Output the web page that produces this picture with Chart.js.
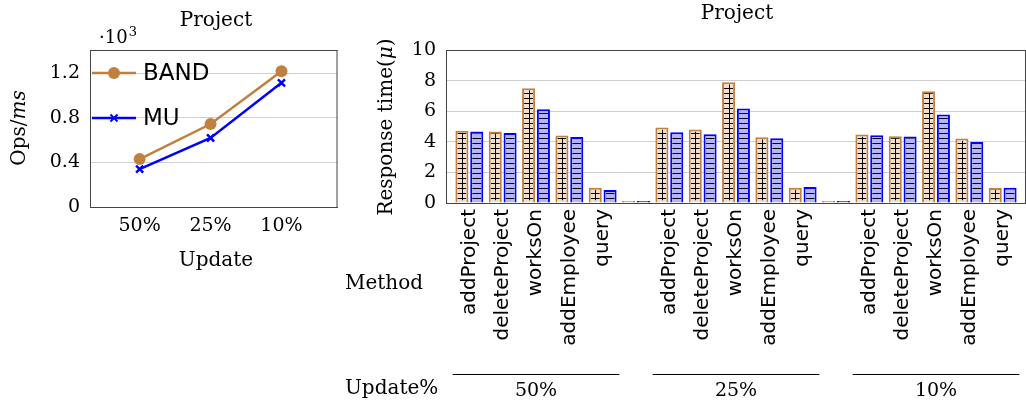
<!DOCTYPE html>
<html>
<head>
<meta charset="utf-8">
<title>Project throughput and response time</title>
<style>
  body { margin: 0; background: #fff; }
  #left { position: absolute; left: 0; top: 0; width: 345px; height: 406px; }
  #right { position: absolute; left: 345px; top: 0; width: 681px; height: 406px; }
</style>
</head>
<body>
<div id="left"><canvas id="opsChart"></canvas></div>
<div id="right"><canvas id="timeChart"></canvas></div>
<script src="https://cdn.jsdelivr.net/npm/chart.js"></script>
<script>
// throughput (x10^3 ops/ms) per update ratio
const updates = ['50%', '25%', '10%'];
const bandOps = [0.43, 0.745, 1.22];
const muOps = [0.34, 0.62, 1.115];
const opsTicks = [0, 0.4, 0.8, 1.2];

// response time per method, one list per update ratio
const methods = ['addProject', 'deleteProject', 'worksOn', 'addEmployee', 'query'];
const groups = ['50%', '25%', '10%'];
const band50 = [4.72, 4.67, 7.5, 4.41, 1.0];
const mu50 = [4.67, 4.57, 6.13, 4.32, 0.85];
const band25 = [4.93, 4.8, 7.89, 4.3, 1.0];
const mu25 = [4.63, 4.5, 6.17, 4.24, 1.05];
const band10 = [4.48, 4.37, 7.3, 4.21, 0.98];
const mu10 = [4.43, 4.35, 5.78, 3.98, 1.0];
const timeTicks = [0, 2, 4, 6, 8, 10];

const BROWN = 'rgb(191,128,64)';
const BROWN_FILL = 'rgb(242,222,203)';
const BLUE = 'rgb(0,0,255)';
const BLUE_FILL = 'rgb(179,179,255)';
const SERIF = 'DejaVu Serif';
const SANS = 'DejaVu Sans';

Chart.defaults.font.family = SERIF;
Chart.defaults.color = '#000';

// slots: 5 methods, gap, 5 methods, gap, 5 methods
const slotLabels = [...methods, '', ...methods, '', ...methods];
const bandTime = [...band50, 0, ...band25, 0, ...band10];
const muTime = [...mu50, 0, ...mu25, 0, ...mu10];

function frame(chart, sides) {
  const { ctx, chartArea: a } = chart;
  ctx.save();
  ctx.strokeStyle = '#444';
  ctx.lineWidth = 1;
  ctx.beginPath();
  if (sides.top) { ctx.moveTo(a.left, a.top + 0.5); ctx.lineTo(a.right, a.top + 0.5); }
  if (sides.right) { ctx.moveTo(a.right - 0.5, a.top); ctx.lineTo(a.right - 0.5, a.bottom); }
  ctx.stroke();
  ctx.restore();
}

function rotatedText(ctx, parts, cx, cy) {
  ctx.save();
  ctx.translate(cx, cy);
  ctx.rotate(-Math.PI / 2);
  ctx.textBaseline = 'middle';
  ctx.textAlign = 'left';
  let total = 0;
  parts.forEach(p => { ctx.font = p.font; total += ctx.measureText(p.text).width; });
  let x = -total / 2;
  parts.forEach(p => { ctx.font = p.font; ctx.fillText(p.text, x, 0); x += ctx.measureText(p.text).width; });
  ctx.restore();
}

// keep the axis box where the layout padding puts it
function noOverhang(s) {
  s.paddingLeft = 0;
  s.paddingRight = 0;
}

const opsDecor = {
  id: 'opsDecor',
  afterDraw(chart) {
    const { ctx, chartArea: a } = chart;
    frame(chart, { top: true, right: true });
    ctx.save();
    ctx.fillStyle = '#000';
    ctx.textBaseline = 'middle';
    ctx.textAlign = 'center';
    ctx.font = `20px "${SERIF}"`;
    ctx.fillText('Project', 216, 21);
    ctx.fillText('Update', 216, 261);
    ctx.textAlign = 'left';
    ctx.textBaseline = 'alphabetic';
    ctx.font = `18px "${SERIF}"`;
    ctx.fillText('·10', 99, 43);
    const w = ctx.measureText('·10').width;
    ctx.font = `13px "${SERIF}"`;
    ctx.fillText('3', 99 + w + 1, 36);
    rotatedText(ctx, [
      { text: 'Ops/', font: `20px "${SERIF}"` },
      { text: 'ms', font: `italic 20px "${SERIF}"` }
    ], 20, 128);

    // legend, top left inside the axis box
    const entries = [
      { label: 'BAND', color: BROWN, y: a.top + 23, marker: 'circle' },
      { label: 'MU', color: BLUE, y: a.top + 68, marker: 'cross' }
    ];
    entries.forEach(e => {
      ctx.strokeStyle = e.color;
      ctx.fillStyle = e.color;
      ctx.lineWidth = 2.5;
      ctx.beginPath();
      ctx.moveTo(a.left + 2, e.y);
      ctx.lineTo(a.left + 46, e.y);
      ctx.stroke();
      const mx = a.left + 24;
      if (e.marker === 'circle') {
        ctx.beginPath();
        ctx.arc(mx, e.y, 6, 0, Math.PI * 2);
        ctx.fill();
      } else {
        ctx.lineWidth = 2;
        ctx.beginPath();
        ctx.moveTo(mx - 3.5, e.y - 3.5); ctx.lineTo(mx + 3.5, e.y + 3.5);
        ctx.moveTo(mx - 3.5, e.y + 3.5); ctx.lineTo(mx + 3.5, e.y - 3.5);
        ctx.stroke();
      }
      ctx.fillStyle = '#000';
      ctx.font = `23px "${SANS}"`;
      ctx.textBaseline = 'middle';
      ctx.fillText(e.label, a.left + 53, e.y + 1);
    });
    ctx.restore();
  }
};

new Chart(document.getElementById('opsChart'), {
  type: 'line',
  data: {
    datasets: [
      {
        label: 'BAND',
        data: bandOps.map((v, i) => ({ x: i, y: v })),
        borderColor: BROWN,
        backgroundColor: BROWN,
        borderWidth: 2.5,
        pointStyle: 'circle',
        pointRadius: 6,
        pointBorderWidth: 0
      },
      {
        label: 'MU',
        data: muOps.map((v, i) => ({ x: i, y: v })),
        borderColor: BLUE,
        backgroundColor: BLUE,
        borderWidth: 2.5,
        pointStyle: 'crossRot',
        pointRadius: 5,
        pointBorderWidth: 2.5
      }
    ]
  },
  options: {
    responsive: true,
    maintainAspectRatio: false,
    animation: false,
    layout: { padding: { left: 0, right: 3, top: 50, bottom: 129 } },
    plugins: { legend: { display: false }, tooltip: { enabled: false } },
    scales: {
      x: {
        type: 'linear',
        offset: false,
        min: -0.7,
        max: 2.79,
        afterBuildTicks: s => { s.ticks = updates.map((_, i) => ({ value: i })); },
        afterFit: s => { s.height = 70; noOverhang(s); },
        grid: { display: false, drawTicks: false },
        border: { color: '#444' },
        ticks: {
          padding: 8,
          font: { size: 19 },
          callback: v => updates[Math.round(v)]
        }
      },
      y: {
        min: 0,
        max: 1.41,
        afterBuildTicks: s => { s.ticks = opsTicks.map(v => ({ value: v })); },
        afterFit: s => { s.width = 90; },
        grid: { color: c => (c.tick && c.tick.value === 0 ? 'rgba(0,0,0,0)' : '#cfcfcf'), drawTicks: false },
        border: { color: '#444' },
        ticks: {
          padding: 10,
          font: { size: 19 },
          callback: v => (v === 0 ? '0' : v.toFixed(1))
        }
      }
    }
  },
  plugins: [opsDecor]
});

// hatch lines inside each bar, placed from the bar geometry
const hatch = {
  id: 'hatch',
  afterDatasetsDraw(chart) {
    const ctx = chart.ctx;
    const bottom = chart.chartArea.bottom;
    chart.data.datasets.forEach((ds, di) => {
      chart.getDatasetMeta(di).data.forEach(bar => {
        const { x, y, base, width } = bar.getProps(['x', 'y', 'base', 'width'], true);
        const bw = 2;
        const l = x - width / 2 + bw, r = x + width / 2 - bw;
        const t = Math.min(y, base) + bw, b = Math.max(y, base) - bw;
        if (b - t < 3) return;
        ctx.save();
        ctx.beginPath();
        ctx.rect(l, t, r - l, b - t);
        ctx.clip();
        ctx.strokeStyle = '#000';
        ctx.lineWidth = 1;
        ctx.beginPath();
        for (let yy = bottom - 5; yy > t - 1; yy -= 5) {
          const py = Math.round(yy) + 0.5;
          ctx.moveTo(l, py);
          ctx.lineTo(r, py);
        }
        if (ds.hatch === 'grid') {
          const px = Math.round(x) + 0.5;
          ctx.moveTo(px, t);
          ctx.lineTo(px, b);
        }
        ctx.stroke();
        ctx.restore();
      });
    });
  }
};

const timeDecor = {
  id: 'timeDecor',
  afterDraw(chart) {
    const { ctx, scales } = chart;
    frame(chart, { top: true, right: true });
    ctx.save();
    ctx.fillStyle = '#000';
    ctx.textAlign = 'center';
    ctx.textBaseline = 'middle';
    ctx.font = `20px "${SERIF}"`;
    ctx.fillText('Project', 392, 14);
    rotatedText(ctx, [
      { text: 'Response time(', font: `20px "${SERIF}"` },
      { text: 'μ', font: `italic 20px "${SERIF}"` },
      { text: ')', font: `20px "${SERIF}"` }
    ], 42, 127);
    ctx.textAlign = 'left';
    ctx.fillText('Method', 0, 284);
    ctx.fillText('Update%', 0, 389);

    // group brackets under the method labels
    const xs = scales.x;
    const slot = xs.getPixelForValue(1) - xs.getPixelForValue(0);
    ctx.strokeStyle = '#000';
    ctx.lineWidth = 1;
    ctx.textAlign = 'center';
    ctx.font = `19px "${SERIF}"`;
    groups.forEach((g, gi) => {
      const first = gi * (methods.length + 1);
      const last = first + methods.length - 1;
      const x0 = xs.getPixelForValue(first) - slot / 2;
      const x1 = xs.getPixelForValue(last) + slot / 2;
      ctx.beginPath();
      ctx.moveTo(x0, 374.5);
      ctx.lineTo(x1, 374.5);
      ctx.stroke();
      ctx.fillText(g, (x0 + x1) / 2, 391);
    });
    ctx.restore();
  }
};

new Chart(document.getElementById('timeChart'), {
  type: 'bar',
  data: {
    datasets: [
      {
        label: 'BAND',
        data: bandTime.map((v, i) => ({ x: i, y: v })),
        backgroundColor: BROWN_FILL,
        borderColor: BROWN,
        borderWidth: 2,
        hatch: 'grid'
      },
      {
        label: 'MU',
        data: muTime.map((v, i) => ({ x: i, y: v })),
        backgroundColor: BLUE_FILL,
        borderColor: BLUE,
        borderWidth: 2,
        hatch: 'lines'
      }
    ]
  },
  options: {
    responsive: true,
    maintainAspectRatio: false,
    animation: false,
    layout: { padding: { left: 0, right: 0, top: 50, bottom: 33 } },
    plugins: { legend: { display: false }, tooltip: { enabled: false } },
    datasets: { bar: { categoryPercentage: 0.89, barPercentage: 0.88, minBarLength: 2 } },
    scales: {
      x: {
        type: 'linear',
        offset: false,
        min: -0.7,
        max: 16.7,
        afterBuildTicks: s => { s.ticks = slotLabels.map((_, i) => ({ value: i })); },
        afterFit: s => { s.height = 170; noOverhang(s); },
        grid: { display: false, drawTicks: false, offset: false },
        border: { color: '#444' },
        ticks: {
          autoSkip: false,
          minRotation: 90,
          maxRotation: 90,
          padding: 6,
          font: { family: SANS, size: 20 },
          callback: v => slotLabels[Math.round(v)]
        }
      },
      y: {
        min: 0,
        max: 10,
        afterBuildTicks: s => { s.ticks = timeTicks.map(v => ({ value: v })); },
        afterFit: s => { s.width = 101; },
        grid: { color: c => (c.tick && (c.tick.value === 0 || c.tick.value === 10) ? 'rgba(0,0,0,0)' : '#cfcfcf'), drawTicks: false },
        border: { color: '#444' },
        ticks: { padding: 10, font: { size: 19 } }
      }
    }
  },
  plugins: [hatch, timeDecor]
});
</script>
</body>
</html>
